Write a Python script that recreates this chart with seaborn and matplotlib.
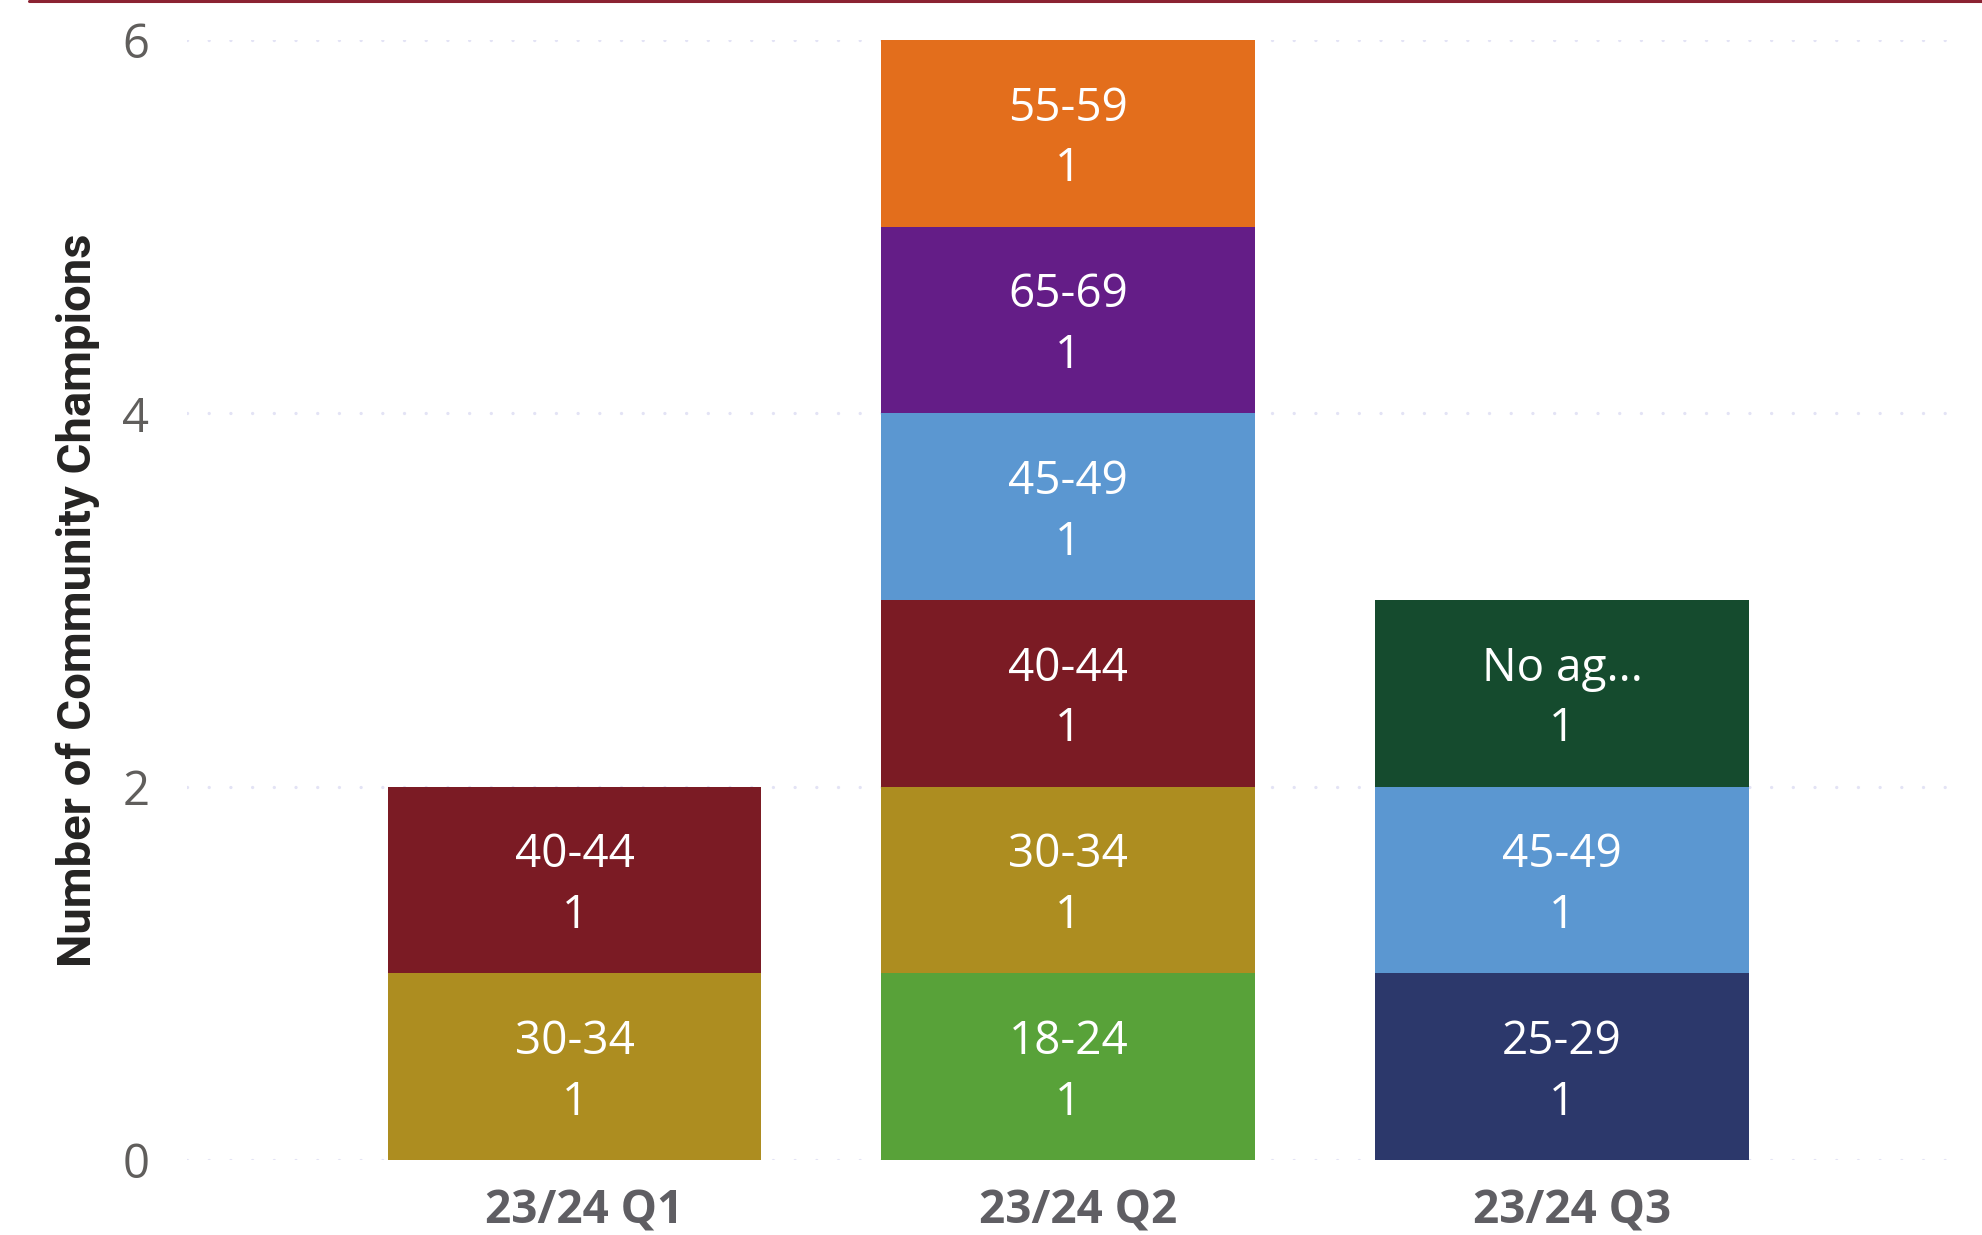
import matplotlib
matplotlib.use("Agg")
import matplotlib.pyplot as plt
from matplotlib import font_manager
from matplotlib.lines import Line2D
import seaborn as sns
import pandas as pd

# Community champions per quarter, broken down by age group (bottom to top)
quarters = ["23/24 Q1", "23/24 Q2", "23/24 Q3"]
q1_groups = ["30-34", "40-44"]
q1_counts = [1, 1]
q2_groups = ["18-24", "30-34", "40-44", "45-49", "65-69", "55-59"]
q2_counts = [1, 1, 1, 1, 1, 1]
q3_groups = ["25-29", "45-49", "No ag..."]
q3_counts = [1, 1, 1]

age_order = ["18-24", "25-29", "30-34", "40-44", "45-49", "65-69", "55-59", "No ag..."]
age_colors = ["#58A239", "#2C386B", "#AD8D20", "#7B1B24", "#5B97D1", "#641D87", "#E36E1C", "#154B2E"]

y_ticks = [0, 2, 4, 6]

rows = []
for q, groups, counts in zip(quarters, [q1_groups, q2_groups, q3_groups],
                             [q1_counts, q2_counts, q3_counts]):
    for g, c in zip(groups, counts):
        rows.append({"quarter": q, "age": g, "count": c})
df = pd.DataFrame(rows)

sns.set_theme(style="white")
plt.rcParams["font.family"] = ["Open Sans", "DejaVu Sans"]

installed = {f.name for f in font_manager.fontManager.ttflist}
title_font = "Liberation Sans Narrow" if "Liberation Sans Narrow" in installed else "Roboto"

fig = plt.figure(figsize=(19.83, 12.35), dpi=100)
ax = fig.add_axes([0.0943, 0.0607, 0.8916, 0.9069])

# histplot stacks the last hue level at the bottom, so feed the order reversed
sns.histplot(data=df, x="quarter", hue="age", weights="count",
             multiple="stack", discrete=True, shrink=0.757,
             hue_order=age_order[::-1], palette=dict(zip(age_order, age_colors)),
             alpha=1, linewidth=0, edgecolor="none", legend=False, ax=ax, zorder=2)

# Segment labels: age group and count, centred in each stacked segment
for qi, q in enumerate(quarters):
    sub = df[df["quarter"] == q].copy()
    sub["rank"] = sub["age"].map({a: i for i, a in enumerate(age_order)})
    sub = sub.sort_values("rank")
    base = 0
    for _, r in sub.iterrows():
        ax.text(qi, base + r["count"] / 2 - 0.03, f"{r['age']}\n{r['count']}",
                ha="center", va="center", color="white", fontsize=33,
                linespacing=1.42, zorder=3)
        base += r["count"]

ax.set_xlim(-0.785, 2.796)
ax.set_ylim(0, 6.0)
ax.set_yticks(y_ticks)
ax.set_yticklabels([str(t) for t in y_ticks], fontsize=34, color="#605E5C")
ax.set_xticks([i + 0.02 for i in range(len(quarters))])
ax.set_xticklabels(quarters, fontsize=33, fontweight="bold", color="#5F5E63")
ax.tick_params(axis="both", length=0)
ax.tick_params(axis="y", pad=27)
ax.tick_params(axis="x", pad=20)
ax.set_xlabel("")
ax.set_ylabel("Number of Community Champions", fontsize=34, fontweight="bold",
              color="#252423", family=title_font)
ax.yaxis.set_label_coords(-0.049, 0.5)

ax.yaxis.grid(True, color="#E3E3F5", linewidth=2.4,
              linestyle=(0, (0.01, 6.5)), dash_capstyle="round", zorder=0)
ax.xaxis.grid(False)
ax.set_axisbelow(True)
for s in ax.spines.values():
    s.set_visible(False)

# Accent rule across the top of the visual
fig.add_artist(Line2D([29 / 1983, 1.0], [1 - 1 / 1235, 1 - 1 / 1235],
                      transform=fig.transFigure, color="#8B2332", linewidth=2.2))

fig.savefig("out.png", dpi=100, facecolor="white")
